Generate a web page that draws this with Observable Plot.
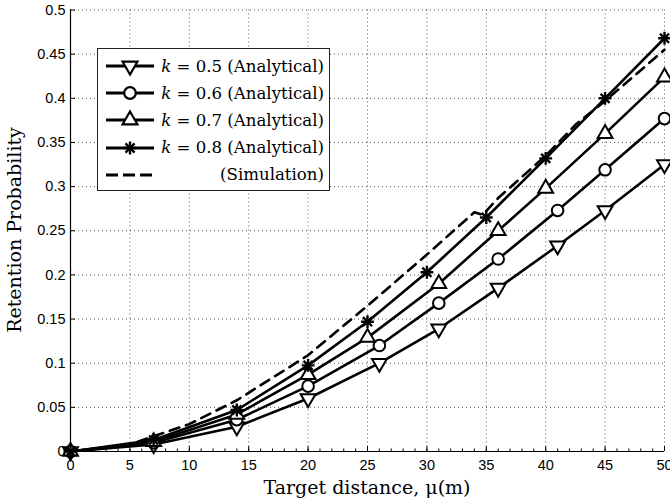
<!DOCTYPE html>
<html><head><meta charset="utf-8">
<script src="https://cdn.jsdelivr.net/npm/d3@7"></script>
<script src="https://cdn.jsdelivr.net/npm/@observablehq/plot@0.6"></script>
<style>
body{margin:0;background:#fff}
#wrap{position:relative;width:670px;height:504px;overflow:hidden;background:#fff}
#legend{position:absolute;left:97px;top:48px;width:233px;height:143px;box-sizing:border-box;border:1.6px solid #222;background:#fff}
.row{position:absolute;left:0;right:5px;height:24px;display:flex;align-items:center}
.row svg{position:absolute;left:6px;top:0px}
.row span{margin-left:auto;font-family:"DejaVu Serif",serif;font-size:16.6px;white-space:nowrap;color:#000}
.title{position:absolute;font-family:"DejaVu Serif",serif;font-size:19px;color:#000;white-space:nowrap;line-height:1}
#xtitle{left:70px;width:594px;text-align:center;top:478px}
#ytitle{left:14px;top:230px;transform:translate(-50%,-50%) rotate(-90deg)}
</style></head>
<body><div id="wrap"><div id="chart"></div><div id="legend"></div><div id="xtitle" class="title"></div><div id="ytitle" class="title"></div></div>
<script>
// Analytical series
const xK05 = [0, 7, 14, 20, 26, 31, 36, 41, 45, 50];
const yK05 = [0, 0.008, 0.028, 0.06, 0.1, 0.139, 0.185, 0.233, 0.273, 0.325];
const xK06 = [0, 7, 14, 20, 26, 31, 36, 41, 45, 50];
const yK06 = [0, 0.01, 0.036, 0.074, 0.12, 0.168, 0.218, 0.273, 0.319, 0.377];
const xK07 = [0, 7, 14, 20, 25, 31, 36, 40, 45, 50];
const yK07 = [0, 0.011, 0.042, 0.087, 0.129, 0.19, 0.25, 0.298, 0.36, 0.424];
const xK08 = [0, 7, 14, 20, 25, 30, 35, 40, 45, 50];
const yK08 = [0, 0.013, 0.047, 0.0975, 0.147, 0.203, 0.265, 0.332, 0.4, 0.468];
// Simulation
const xSim = [0, 5, 10, 14, 20, 25, 30, 34, 34.7, 36, 40, 42.5, 45, 50];
const ySim = [0, 0.008, 0.031, 0.058, 0.109, 0.165, 0.223, 0.271, 0.268, 0.287, 0.335, 0.37, 0.397, 0.455];

const seriesNames = ["k = 0.5 (Analytical)", "k = 0.6 (Analytical)", "k = 0.7 (Analytical)", "k = 0.8 (Analytical)", "(Simulation)"];
const xTicks = [0, 5, 10, 15, 20, 25, 30, 35, 40, 45, 50];
const xMinorTicks = d3.range(0, 51, 1);
const yTicks = [0, 0.05, 0.1, 0.15, 0.2, 0.25, 0.3, 0.35, 0.4, 0.45, 0.5];
const yTickLabels = ["0", "0.05", "0.1", "0.15", "0.2", "0.25", "0.3", "0.35", "0.4", "0.45", "0.5"];
const xLabel = "Target distance, μ(m)";
const yLabel = "Retention Probability";

const toRows = (xs, ys) => xs.map((x, i) => ({x, y: ys[i]}));
const k05 = toRows(xK05, yK05), k06 = toRows(xK06, yK06), k07 = toRows(xK07, yK07), k08 = toRows(xK08, yK08), sim = toRows(xSim, ySim);

const LW = 2.6, MW = 2;

const chart = Plot.plot({
  width: 670, height: 504,
  marginLeft: 70, marginRight: 6, marginTop: 9.5, marginBottom: 53,
  x: {domain: [0, 50]},
  y: {domain: [0, 0.5]},
  style: {background: "white", color: "black", fontFamily: "'Liberation Sans', Arial, sans-serif", fontSize: "14.5px"},
  marks: [
    Plot.gridX(xTicks, {stroke: "#000", strokeOpacity: 0.65, strokeDasharray: "1,3"}),
    Plot.gridY(yTicks, {stroke: "#000", strokeOpacity: 0.65, strokeDasharray: "1,3"}),
    Plot.axisX(xMinorTicks, {tickSize: -2.5, tickFormat: () => "", label: null, strokeWidth: 1}),
    Plot.axisX(xTicks, {tickSize: -5, tickFormat: () => "", label: null}),
    Plot.axisY(yTicks, {tickSize: -5, tickFormat: () => "", label: null}),
    Plot.axisX(xTicks, {tickSize: 0, tickPadding: 8, label: null, fontSize: 14.5}),
    Plot.axisY(yTicks, {tickSize: 0, tickPadding: 5, label: null, fontSize: 14.5,
      tickFormat: (d) => yTickLabels[yTicks.indexOf(d)]}),
    Plot.ruleY([0], {stroke: "#000", strokeWidth: 1.2}),
    Plot.ruleX([0], {stroke: "#000", strokeWidth: 1.2}),
    Plot.line(sim, {x: "x", y: "y", stroke: "#000", strokeWidth: LW, strokeDasharray: "10,7"}),
    Plot.line(k05, {x: "x", y: "y", stroke: "#000", strokeWidth: LW}),
    Plot.dot(k05, {x: "x", y: "y", symbol: "triangle", rotate: 180, r: 5.5, stroke: "#000", fill: "white", strokeWidth: MW}),
    Plot.line(k06, {x: "x", y: "y", stroke: "#000", strokeWidth: LW}),
    Plot.dot(k06, {x: "x", y: "y", symbol: "circle", r: 5.8, stroke: "#000", fill: "white", strokeWidth: MW}),
    Plot.line(k07, {x: "x", y: "y", stroke: "#000", strokeWidth: LW}),
    Plot.dot(k07, {x: "x", y: "y", symbol: "triangle", r: 5.5, stroke: "#000", fill: "white", strokeWidth: MW}),
    Plot.line(k08, {x: "x", y: "y", stroke: "#000", strokeWidth: LW}),
    Plot.dot(k08, {x: "x", y: "y", symbol: "plus", r: 4.2, stroke: "#000", strokeWidth: 2.4}),
    Plot.dot(k08, {x: "x", y: "y", symbol: "times", r: 4.2, stroke: "#000", strokeWidth: 2.4})
  ]
});
document.getElementById("chart").appendChild(chart);
document.getElementById("xtitle").textContent = xLabel;
document.getElementById("ytitle").textContent = yLabel;

// Legend
const legend = d3.select("#legend");
const sym = (type, r) => d3.symbol(type, Math.PI * r * r)();
const legendMarkers = [
  {path: sym(d3.symbolTriangle, 5.5), rotate: 180, fill: "white"},
  {path: sym(d3.symbolCircle, 5.8), rotate: 0, fill: "white"},
  {path: sym(d3.symbolTriangle, 5.5), rotate: 0, fill: "white"},
  {star: true},
  null
];
seriesNames.forEach((name, i) => {
  const row = legend.append("div").attr("class", "row").style("top", (5 + i * 27.2) + "px");
  const s = row.append("svg").attr("width", 52).attr("height", 24);
  const line = s.append("line").attr("x1", 2).attr("x2", 50).attr("y1", 12).attr("y2", 12)
    .attr("stroke", "#000").attr("stroke-width", 3.2);
  const m = legendMarkers[i];
  if (!m) line.attr("stroke-dasharray", "12,5");
  else if (m.star) {
    s.append("path").attr("d", sym(d3.symbolPlus, 4.2)).attr("transform", "translate(26,12)").attr("fill", "none").attr("stroke", "#000").attr("stroke-width", 2.4);
    s.append("path").attr("d", sym(d3.symbolTimes, 4.2)).attr("transform", "translate(26,12)").attr("fill", "none").attr("stroke", "#000").attr("stroke-width", 2.4);
  } else {
    s.append("path").attr("d", m.path).attr("transform", `translate(26,12) rotate(${m.rotate})`)
      .attr("fill", m.fill).attr("stroke", "#000").attr("stroke-width", 2.2);
  }
  const span = row.append("span");
  if (name.startsWith("k")) {
    span.append("i").text("k");
    span.node().appendChild(document.createTextNode(name.slice(1)));
  } else {
    span.text(name);
  }
});
</script>
</body></html>
